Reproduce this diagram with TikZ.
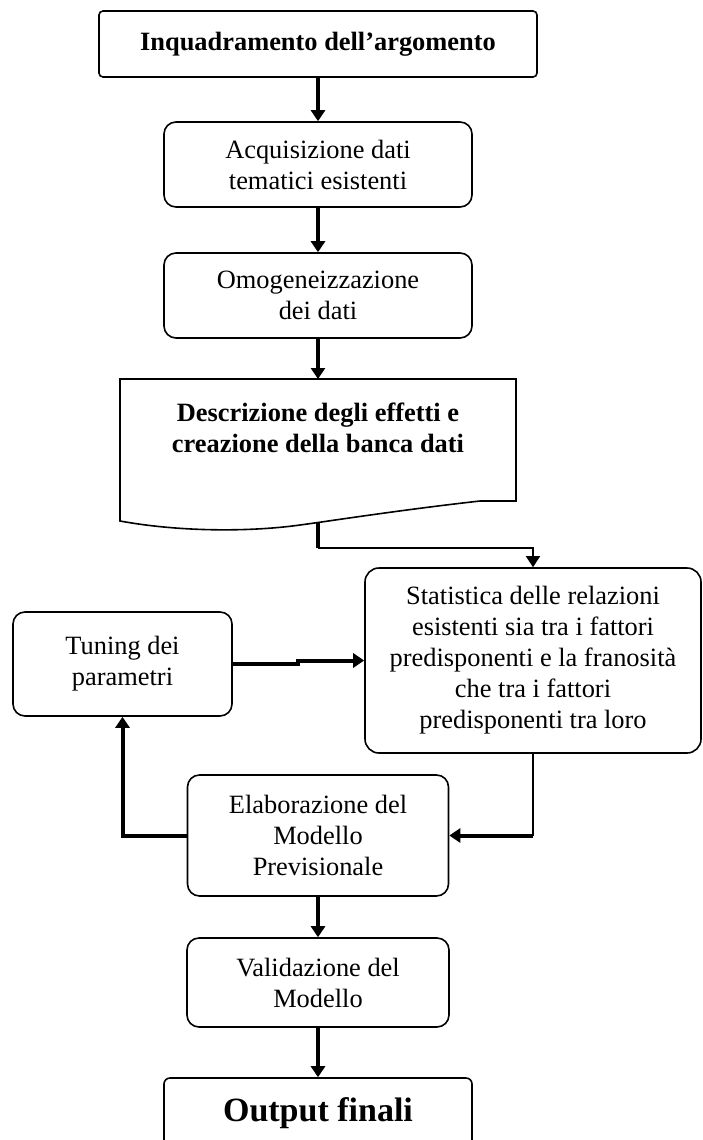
\documentclass[tikz,border=0pt]{standalone}
\usepackage{fontspec}
\setmainfont{Liberation Serif}
\usepackage{tikz}
\usetikzlibrary{calc,positioning,arrows.meta}

\newcommand{\boxfont}{\fontsize{13.2}{15.5}\selectfont}
\newcommand{\bigfont}{\fontsize{17}{20}\selectfont\bfseries}

\tikzset{
  box/.style={draw, line width=0.8pt, rounded corners=6pt, align=center, inner sep=0pt, font=\boxfont},
  flow/.style={line width=2pt, -{Triangle[width=7pt,length=5.5pt]}},
  thinline/.style={line width=0.8pt}
}

\begin{document}
\begin{tikzpicture}[x=0.5pt,y=-0.5pt]
        \useasboundingbox (0,0) rectangle (702,1140);
        \clip (0,0) rectangle (702,1140);

        % main column
        \node[box, rounded corners=2pt, minimum width=219pt, minimum height=33pt, font=\boxfont\bfseries] (inq) at (318,44) {Inquadramento dell'argomento};
        \node[box, minimum width=154pt, minimum height=42.5pt] (acq) at (318,164.5) {Acquisizione dati\\tematici esistenti};
        \node[box, minimum width=154pt, minimum height=42.5pt] (omo) at (318,295.5) {Omogeneizzazione\\dei dati};

        % document shape
        \draw[thinline] (120,379) -- (516,379) -- (516,501) -- (480,501)
              .. controls (400,510) and (330,521) .. (300,525)
              .. controls (250,532) and (180,532) .. (120,521) -- cycle;
        \node[align=center, font=\boxfont\bfseries] (desc) at (318,428) {Descrizione degli effetti e\\creazione della banca dati};
        \coordinate (desctop) at (318,379);
        \coordinate (descbot) at (318,523);
        \coordinate (descturn) at (318,548);

        % loop
        \node[box, rounded corners=7pt, minimum width=168pt, minimum height=92.5pt] (stat) at (533,660.5) {Statistica delle relazioni\\esistenti sia tra i fattori\\predisponenti e la franosità\\che tra i fattori\\predisponenti tra loro};
        \node[box, minimum width=109.5pt, minimum height=52pt] (tun) at (122.5,664) {Tuning dei\\parametri};
        \node[box, minimum width=130.5pt, minimum height=60.5pt] (ela) at (318,835.5) {Elaborazione del\\Modello\\Previsionale};
        \coordinate (statturn) at (stat.south |- ela.east);

        % end
        \node[box, minimum width=131pt, minimum height=44.5pt] (val) at (318,982.5) {Validazione del\\Modello};
        \node[box, rounded corners=3pt, minimum width=154pt, minimum height=35pt, font=\bigfont] (out) at (318,1113) {Output finali};

        % arrows
        \foreach \a/\b in {inq/acq, acq/omo, ela/val, val/out} {
            \draw[flow] (\a.south) -- (\b.north);
        }
        \draw[flow] (omo.south) -- (desctop);
        \draw[line width=2pt] (descbot) -- (descturn);
        \draw[thinline, -{Triangle[width=7pt,length=5.5pt]}] (descturn) -| (stat.north);
        \draw[flow] (tun.east) -- ++(65,0) |- (stat.west);
        \draw[thinline] (stat.south) -- (statturn);
        \draw[flow] (statturn) -- (ela.east);
        \draw[flow] (ela.west) -| (tun.south);

\end{tikzpicture}
\end{document}
